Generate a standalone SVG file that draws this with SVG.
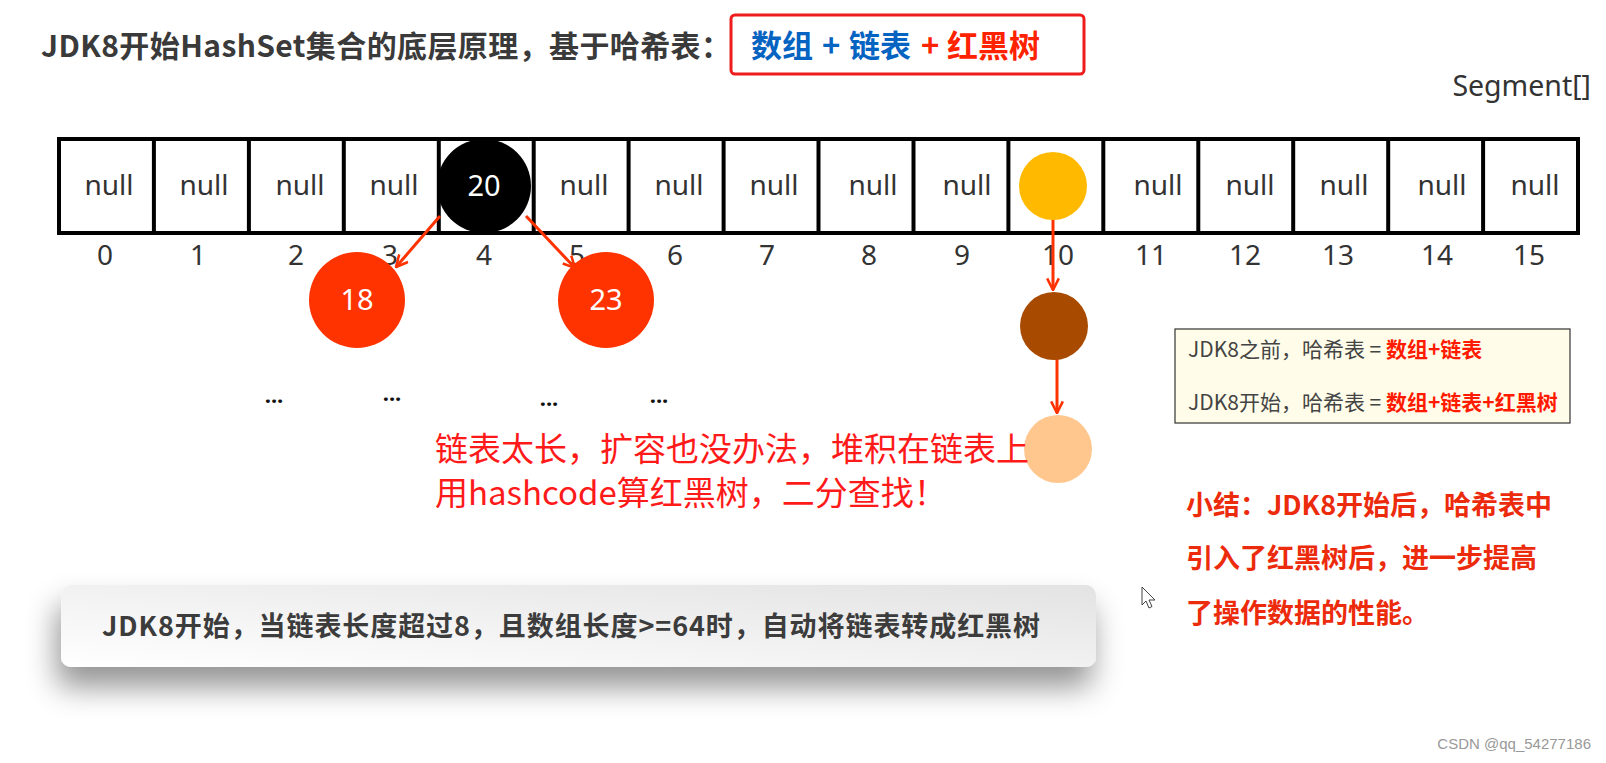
<svg xmlns="http://www.w3.org/2000/svg" width="1606" height="763" viewBox="0 0 1606 763">
<defs>
<style>
.t{font-family:"Noto Sans","Noto Sans CJK SC",sans-serif}
.cj{font-family:"Noto Sans CJK SC","Noto Sans",sans-serif}
.nul{font-size:28px;fill:#333;text-anchor:middle}
.idx{font-size:28px;fill:#333;text-anchor:middle}
.ct{font-size:29px;fill:#fff;text-anchor:middle}
.div{stroke:#000;stroke-width:4}
.arr{stroke:#ff3300;stroke-width:3;fill:none;marker-end:url(#ah)}
.dots{font-size:22px;font-weight:bold;fill:#111;text-anchor:middle}
</style>
<marker id="ah" viewBox="0 0 12 12" refX="11" refY="6" markerWidth="14" markerHeight="14" markerUnits="userSpaceOnUse" orient="auto">
<path d="M1,1 L11,6 L1,11" fill="none" stroke="#ff3300" stroke-width="2.2"/>
</marker>
<linearGradient id="gbox" x1="0" y1="1" x2="1" y2="0">
<stop offset="0" stop-color="#ffffff"/>
<stop offset="1" stop-color="#e3e3e3"/>
</linearGradient>
<filter id="sh" x="-10%" y="-50%" width="120%" height="240%">
<feDropShadow dx="-4" dy="20" stdDeviation="15" flood-color="#000" flood-opacity="0.42"/>
</filter>
</defs>
<rect width="1606" height="763" fill="#fff"/>

<g id="title">
<text class="cj" x="41" y="57" font-size="30" font-weight="bold" fill="#3a3a3a" textLength="690" lengthAdjust="spacing">JDK8开始HashSet集合的底层原理，基于哈希表：</text>
<rect x="731" y="15" width="353" height="59" rx="4" fill="none" stroke="#ee1c1c" stroke-width="3"/>
<text class="cj" y="57" font-size="31" font-weight="bold"><tspan x="751" fill="#0563c1">数组</tspan><tspan x="822" fill="#0563c1">+</tspan><tspan x="849" fill="#0563c1">链表</tspan><tspan x="921" fill="#ff2200">+</tspan><tspan x="947" fill="#ff2200">红黑树</tspan></text>
</g>

<g id="segment-label"><text class="t" x="1591" y="96" font-size="28.5" fill="#333" text-anchor="end">Segment[]</text></g>

<g id="array">
<rect x="59" y="139" width="1519" height="94" fill="#fff" stroke="#000" stroke-width="4"/>
<line class="div" x1="153.9" y1="139" x2="153.9" y2="233"/>
<line class="div" x1="248.9" y1="139" x2="248.9" y2="233"/>
<line class="div" x1="343.8" y1="139" x2="343.8" y2="233"/>
<line class="div" x1="438.8" y1="139" x2="438.8" y2="233"/>
<line class="div" x1="533.7" y1="139" x2="533.7" y2="233"/>
<line class="div" x1="628.6" y1="139" x2="628.6" y2="233"/>
<line class="div" x1="723.6" y1="139" x2="723.6" y2="233"/>
<line class="div" x1="818.5" y1="139" x2="818.5" y2="233"/>
<line class="div" x1="913.5" y1="139" x2="913.5" y2="233"/>
<line class="div" x1="1008.4" y1="139" x2="1008.4" y2="233"/>
<line class="div" x1="1103.3" y1="139" x2="1103.3" y2="233"/>
<line class="div" x1="1198.3" y1="139" x2="1198.3" y2="233"/>
<line class="div" x1="1293.2" y1="139" x2="1293.2" y2="233"/>
<line class="div" x1="1388.2" y1="139" x2="1388.2" y2="233"/>
<line class="div" x1="1483.1" y1="139" x2="1483.1" y2="233"/>
<g class="t">
<text class="nul" x="109" y="195">null</text>
<text class="nul" x="204" y="195">null</text>
<text class="nul" x="300" y="195">null</text>
<text class="nul" x="394" y="195">null</text>
<text class="nul" x="584" y="195">null</text>
<text class="nul" x="679" y="195">null</text>
<text class="nul" x="774" y="195">null</text>
<text class="nul" x="873" y="195">null</text>
<text class="nul" x="967" y="195">null</text>
<text class="nul" x="1158" y="195">null</text>
<text class="nul" x="1250" y="195">null</text>
<text class="nul" x="1344" y="195">null</text>
<text class="nul" x="1442" y="195">null</text>
<text class="nul" x="1535" y="195">null</text>
</g>
<g class="t">
<text class="idx" x="105" y="265">0</text>
<text class="idx" x="198" y="265">1</text>
<text class="idx" x="296" y="265">2</text>
<text class="idx" x="390" y="265">3</text>
<text class="idx" x="484" y="265">4</text>
<text class="idx" x="577" y="265">5</text>
<text class="idx" x="675" y="265">6</text>
<text class="idx" x="767" y="265">7</text>
<text class="idx" x="869" y="265">8</text>
<text class="idx" x="962" y="265">9</text>
<text class="idx" x="1058" y="265">10</text>
<text class="idx" x="1151" y="265">11</text>
<text class="idx" x="1245" y="265">12</text>
<text class="idx" x="1338" y="265">13</text>
<text class="idx" x="1437" y="265">14</text>
<text class="idx" x="1529" y="265">15</text>
</g>
</g>

<g id="connectors">
<line class="arr" x1="440" y1="216" x2="396" y2="267"/>
<line class="arr" x1="526" y1="216" x2="575" y2="268"/>
<line class="arr" x1="1053" y1="219" x2="1053" y2="290"/>
<line class="arr" x1="1057" y1="359" x2="1057" y2="413"/>
</g>

<g id="node-20"><circle cx="484" cy="186" r="47" fill="#000"/><text class="t ct" x="484" y="196">20</text></g>
<g id="node-18"><circle cx="357" cy="300" r="48" fill="#ff3300"/><text class="t ct" x="357" y="310">18</text></g>
<g id="node-23"><circle cx="606" cy="300" r="48" fill="#ff3300"/><text class="t ct" x="606" y="310">23</text></g>
<g id="node-yellow"><circle cx="1053" cy="186" r="34" fill="#ffba00"/></g>
<g id="node-brown"><circle cx="1054" cy="326" r="34" fill="#a84a00"/></g>
<g id="node-peach"><circle cx="1058" cy="449" r="34" fill="#ffc78e"/></g>

<g id="dots" class="t">
<text class="dots" x="274" y="403">...</text>
<text class="dots" x="392" y="401">...</text>
<text class="dots" x="549" y="406">...</text>
<text class="dots" x="659" y="403">...</text>
</g>

<g id="comment" class="cj" font-size="33" fill="#ff1a1a">
<text x="435" y="461">链表太长，扩容也没办法，堆积在链表上</text>
<text x="435" y="505">用hashcode算红黑树，二分查找！</text>
</g>

<g id="note-box">
<rect x="1175" y="329" width="395" height="94" fill="#fffdea" stroke="#333" stroke-width="1.2"/>
<text class="cj" x="1188" y="357" font-size="21" fill="#444">JDK8之前，哈希表 = <tspan fill="#ff1a00" font-weight="bold">数组+链表</tspan></text>
<text class="cj" x="1188" y="410" font-size="21" fill="#444">JDK8开始，哈希表 = <tspan fill="#ff1a00" font-weight="bold">数组+链表+红黑树</tspan></text>
</g>

<g id="summary" class="cj" font-size="27" font-weight="bold" fill="#ec2b0c">
<text x="1186" y="515">小结：JDK8开始后，哈希表中</text>
<text x="1186" y="568">引入了红黑树后，进一步提高</text>
<text x="1186" y="623">了操作数据的性能。</text>
</g>

<g id="cursor"><path d="M1142,587 L1142,605 L1146,601 L1149,608 L1152,606.5 L1149,600 L1155,600 Z" fill="#fff" stroke="#444" stroke-width="1"/></g>

<g id="bottom-box">
<rect x="61" y="585" width="1035" height="82" rx="10" fill="url(#gbox)" filter="url(#sh)"/>
<text class="cj" x="102" y="636" font-size="27" font-weight="bold" fill="#3c3c3c" textLength="938" lengthAdjust="spacing">JDK8开始，当链表长度超过8，且数组长度&gt;=64时，自动将链表转成红黑树</text>
</g>

<g id="watermark"><text x="1591" y="749" font-family="Liberation Sans, sans-serif" font-size="15" fill="#999" text-anchor="end">CSDN @qq_54277186</text></g>
</svg>
